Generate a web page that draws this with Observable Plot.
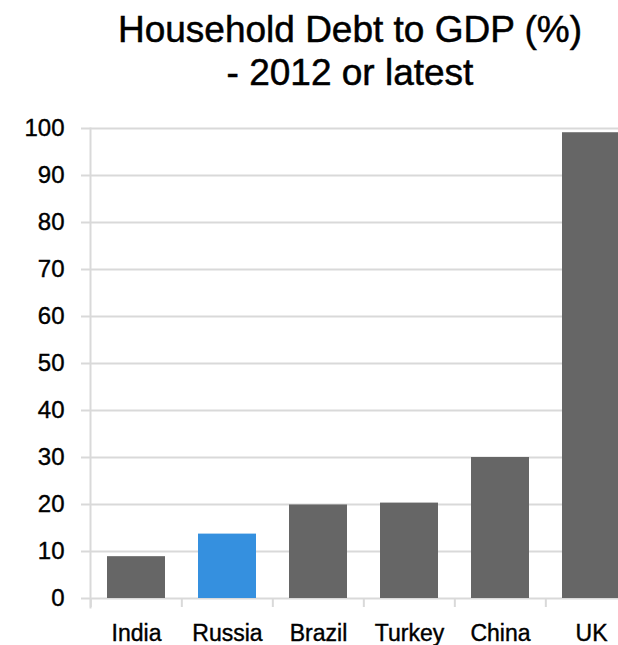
<!DOCTYPE html>
<html>
<head>
<meta charset="utf-8">
<script src="https://cdn.jsdelivr.net/npm/d3@7"></script>
<script src="https://cdn.jsdelivr.net/npm/@observablehq/plot@0.6"></script>
<style>
  html, body { margin: 0; padding: 0; background: #fff; overflow: hidden; width: 618px; height: 645px; }
  #title { position: absolute; top: 8px; left: 50px; width: 600px; text-align: center;
    font-family: "Liberation Sans", Arial, sans-serif; font-size: 37px; line-height: 43px; color: #000;
    -webkit-text-stroke: 0.5px #000; }
  #chart { position: absolute; top: 100px; left: 0; width: 640px; }
  #chart svg { max-width: none !important; }
  #chart svg text { stroke: #000; stroke-width: 0.4px; }
</style>
</head>
<body>
<div id="title">Household Debt to GDP (%)<br>- 2012 or latest</div>
<div id="chart"></div>
<script>
const countries = ["India", "Russia", "Brazil", "Turkey", "China", "UK"];
const debtToGdp = [8.9, 13.7, 19.9, 20.3, 30.0, 99.1];
const barColors = ["#666666", "#3590df", "#666666", "#666666", "#666666", "#666666"];
const yTicks = [0, 10, 20, 30, 40, 50, 60, 70, 80, 90, 100];

const data = countries.map((c, i) => ({country: c, value: debtToGdp[i], color: barColors[i]}));

const W = 640, ML = 90, MR = 2;
const step = (W - ML - MR) / countries.length;

const chart = Plot.plot({
  width: W,
  height: 545,
  marginTop: 28,
  marginBottom: 47,
  marginLeft: ML,
  marginRight: MR,
  style: {fontFamily: "'Liberation Sans', Arial, sans-serif", color: "#000", background: "#fff", maxWidth: "none"},
  x: {domain: countries, paddingInner: 0.36, paddingOuter: 0.18, label: null},
  y: {domain: [0, 100], label: null},
  marks: [
    Plot.ruleY(yTicks, {stroke: "#d9d9d9", strokeWidth: 2, insetLeft: -9}),
    Plot.frame({anchor: "left", stroke: "#d9d9d9", strokeWidth: 2, insetBottom: -9}),
    Plot.ruleX(countries, {x: d => d, dx: -step / 2, y1: 0, y2: 0, insetBottom: -9, stroke: "#d9d9d9", strokeWidth: 2}),
    Plot.barY(data, {x: "country", y: "value", fill: "color"}),
    Plot.axisY({ticks: yTicks, tickSize: 9, tickPadding: 17, stroke: "none", fontSize: 24, fill: "#000"}),
    Plot.axisX({tickSize: 0, tickPadding: 26, fontSize: 23, fill: "#000"})
  ]
});
document.getElementById("chart").appendChild(chart);
</script>
</body>
</html>
